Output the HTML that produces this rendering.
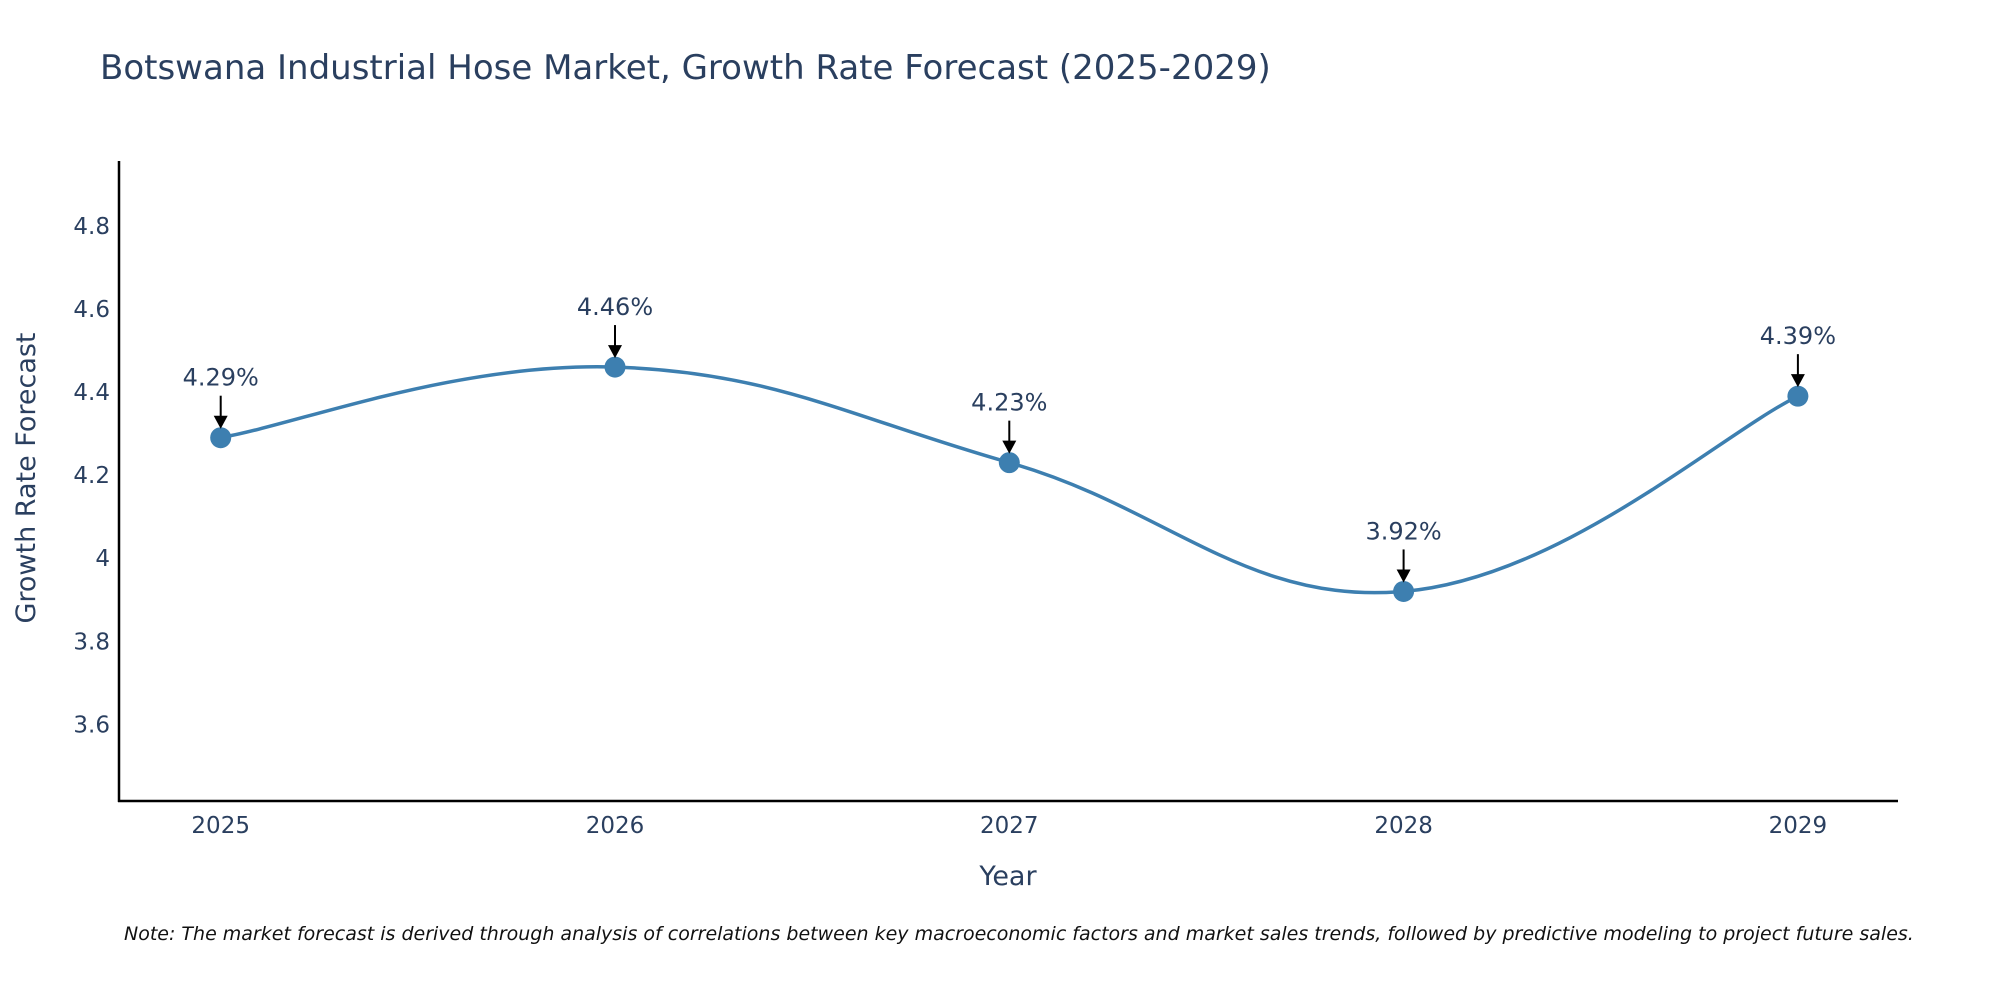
<!DOCTYPE html>
<html><head><meta charset="utf-8"><style>
body{margin:0;background:#fff;}
svg{display:block;font-family:"DejaVu Sans","Liberation Sans",sans-serif;}
</style></head><body>
<svg width="2000" height="1000" viewBox="0 0 2000 1000">
<text x="100" y="79" font-size="34" fill="#2a3f5f">Botswana Industrial Hose Market, Growth Rate Forecast (2025-2029)</text>
<g id="yticks"></g><g id="xticks"></g>
<line x1="119" y1="161" x2="119" y2="802" stroke="#000" stroke-width="2.5"/>
<line x1="118" y1="801" x2="1898" y2="801" stroke="#000" stroke-width="2.5"/>
<path id="line" fill="none" stroke="#3d7fb0" stroke-width="3.5"/>
<g id="marks"></g>
<text x="1008" y="885" text-anchor="middle" font-size="27" fill="#2a3f5f">Year</text>
<text transform="translate(35,478) rotate(-90)" text-anchor="middle" font-size="27" fill="#2a3f5f">Growth Rate Forecast</text>
<text x="124" y="940" font-size="19" font-style="italic" fill="#111">Note: The market forecast is derived through analysis of correlations between key macroeconomic factors and market sales trends, followed by predictive modeling to project future sales.</text>
</svg>
<script>
const years=[2025,2026,2027,2028,2029];
const values=[4.29,4.46,4.23,3.92,4.39];
const yTicks=[3.6,3.8,4,4.2,4.4,4.6,4.8];
const NS="http://www.w3.org/2000/svg";
function xs(v){return 220.7+(v-2025)*394.3;}
function ys(v){return 225.8+(4.8-v)/0.2*83.1;}
function mk(t,a,p){const e=document.createElementNS(NS,t);for(const k in a)e.setAttribute(k,a[k]);p.appendChild(e);return e;}
const yt=document.getElementById('yticks');
yTicks.forEach(v=>{const t=mk('text',{x:110,y:ys(v)+8,'text-anchor':'end','font-size':23,fill:'#2a3f5f'},yt);t.textContent=String(v);

});
const xt=document.getElementById('xticks');
years.forEach(v=>{const t=mk('text',{x:xs(v),y:833,'text-anchor':'middle','font-size':23,fill:'#2a3f5f'},xt);t.textContent=String(v);

});
const P=years.map((y,i)=>[xs(y),ys(values[i])]);
let d='M'+P[0][0]+','+P[0][1];
const k=0.2;
for(let i=0;i<P.length-1;i++){const p0=P[Math.max(0,i-1)],p1=P[i],p2=P[i+1],p3=P[Math.min(P.length-1,i+2)];
const c1=[p1[0]+(p2[0]-p0[0])*k,p1[1]+(p2[1]-p0[1])*k],c2=[p2[0]-(p3[0]-p1[0])*k,p2[1]-(p3[1]-p1[1])*k];
d+=' C'+c1+' '+c2+' '+p2;}
document.getElementById('line').setAttribute('d',d);
const g=document.getElementById('marks');
P.forEach((p,i)=>{
const c=mk('circle',{cx:p[0],cy:p[1],r:10.5,fill:'#3d7fb0'},g);


const l=mk('line',{x1:p[0],y1:p[1]-42,x2:p[0],y2:p[1]-20,stroke:'#000','stroke-width':2},g);


const h=mk('polygon',{points:`${p[0]-7},${p[1]-22} ${p[0]+7},${p[1]-22} ${p[0]},${p[1]-9}`,fill:'#000'},g);


const t=mk('text',{x:p[0],y:p[1]-52,'text-anchor':'middle','font-size':24,fill:'#2a3f5f'},g);
t.textContent=values[i].toFixed(2)+'%';


});
</script>
</body></html>
